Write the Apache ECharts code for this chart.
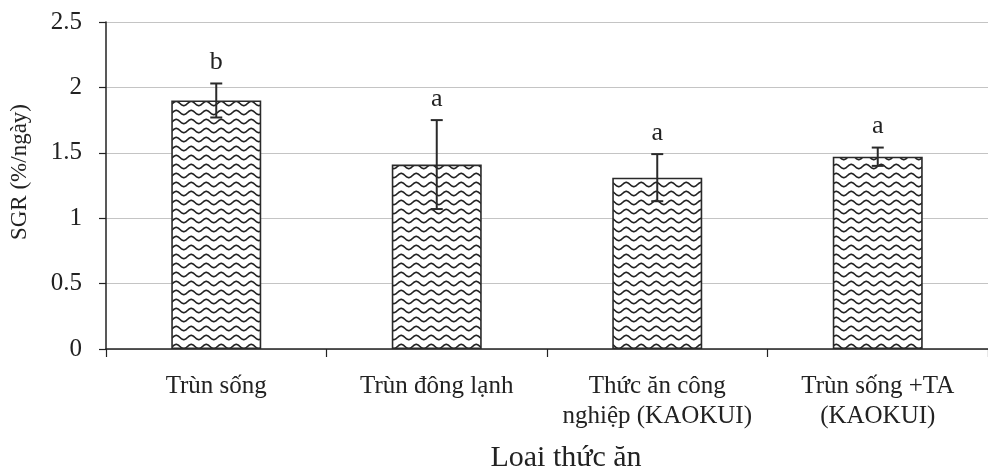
<!DOCTYPE html>
<html>
<head>
<meta charset="utf-8">
<script src="https://cdn.jsdelivr.net/npm/echarts@6/dist/echarts.min.js"></script>
<style>
  html, body { margin: 0; padding: 0; background: #fff; }
  #chart { width: 988px; height: 472px; }
</style>
</head>
<body>
<div id="chart"></div>
<script>
// Feed types and their specific growth rate (SGR, %/day)
const categories = ['Trùn sống', 'Trùn đông lạnh', 'Thức ăn công\nnghiệp (KAOKUI)', 'Trùn sống +TA\n(KAOKUI)'];
const sgrMean = [1.90, 1.41, 1.31, 1.47];
const sgrError = [0.13, 0.34, 0.18, 0.07];
const groupLetters = ['b', 'a', 'a', 'a'];
const yMin = 0, yMax = 2.5, yStep = 0.5;

const FONT = '"Liberation Serif", "Times New Roman", serif';

// Wavy hatch tile used to fill the bars
function makeWaveTile() {
  const w = 15, h = 9;
  const c = document.createElement('canvas');
  c.width = w; c.height = h;
  const ctx = c.getContext('2d');
  ctx.fillStyle = '#fff';
  ctx.fillRect(0, 0, w, h);
  ctx.strokeStyle = '#222';
  ctx.lineWidth = 1.6;
  ctx.beginPath();
  for (let x = -1; x <= w + 1; x += 0.5) {
    const y = h / 2 + 2.1 * Math.sin((x / w) * Math.PI * 2);
    if (x === -1) ctx.moveTo(x, y); else ctx.lineTo(x, y);
  }
  ctx.stroke();
  return c;
}

const chart = echarts.init(document.getElementById('chart'), null, { renderer: 'canvas' });

const errorData = sgrMean.map((m, i) => [i, m - sgrError[i], m + sgrError[i]]);

chart.setOption({
  backgroundColor: '#fff',
  animation: false,
  grid: { left: 106, right: -7, top: 22, bottom: 123, containLabel: false },
  xAxis: {
    type: 'category',
    data: categories,
    boundaryGap: true,
    axisLine: { show: true, lineStyle: { color: '#222', width: 1.5 } },
    axisTick: { show: true, length: 8, lineStyle: { color: '#222', width: 1.2 } },
    axisLabel: {
      interval: 0, margin: 22, color: '#222',
      fontFamily: FONT, fontSize: 25, lineHeight: 30
    }
  },
  yAxis: {
    type: 'value',
    min: yMin, max: yMax, interval: yStep,
    axisLine: { show: true, lineStyle: { color: '#222', width: 1.5 } },
    axisTick: { show: true, inside: false, length: 7, lineStyle: { color: '#222', width: 1.2 } },
    axisLabel: {
      margin: 24, color: '#222', fontFamily: FONT, fontSize: 25,
      formatter: v => String(v)
    },
    splitLine: { show: true, lineStyle: { color: '#c4c4c4', width: 1 } }
  },
  graphic: [
    {
      type: 'text', x: 20, y: 172, rotation: Math.PI / 2,
      style: { text: 'SGR (%/ngày)', font: '23px ' + FONT, fill: '#222', align: 'center', verticalAlign: 'middle' }
    },
    {
      type: 'text', x: 566, y: 458,
      style: { text: 'Loai thức ăn', font: '30px ' + FONT, fill: '#222', align: 'center', verticalAlign: 'middle' }
    }
  ],
  series: [
    {
      type: 'bar',
      data: sgrMean,
      barWidth: 90,
      itemStyle: {
        color: { image: makeWaveTile(), repeat: 'repeat' },
        borderColor: '#2a2a2a',
        borderWidth: 1.6
      },
      z: 2
    },
    {
      type: 'custom',
      data: errorData,
      encode: { x: 0, y: [1, 2] },
      z: 5,
      renderItem: (params, api) => {
        const lo = api.coord([api.value(0), api.value(1)]);
        const hi = api.coord([api.value(0), api.value(2)]);
        const cap = 6;
        const stroke = { stroke: '#2a2a2a', lineWidth: 2 };
        return {
          type: 'group',
          children: [
            { type: 'line', shape: { x1: hi[0], y1: hi[1], x2: lo[0], y2: lo[1] }, style: stroke },
            { type: 'line', shape: { x1: hi[0] - cap, y1: hi[1], x2: hi[0] + cap, y2: hi[1] }, style: stroke },
            { type: 'line', shape: { x1: lo[0] - cap, y1: lo[1], x2: lo[0] + cap, y2: lo[1] }, style: stroke },
            {
              type: 'text', x: hi[0], y: hi[1] - 8,
              style: {
                text: groupLetters[params.dataIndex], font: '26px ' + FONT, fill: '#222',
                align: 'center', verticalAlign: 'bottom'
              }
            }
          ]
        };
      }
    }
  ]
});
</script>
</body>
</html>
